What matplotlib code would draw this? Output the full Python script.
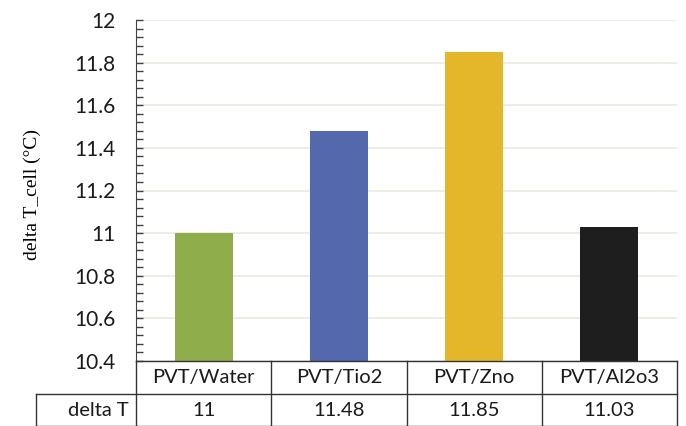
import matplotlib.pyplot as plt
from matplotlib.lines import Line2D
from matplotlib.ticker import MultipleLocator

# data
categories = ["PVT/Water", "PVT/Tio2", "PVT/Zno", "PVT/Al2o3"]
delta_t = [11, 11.48, 11.85, 11.03]
colors = ["#8FAE4B", "#5468AE", "#E4B72A", "#1E1E1E"]
row_label = "delta T"

W, H = 686, 426
fig = plt.figure(figsize=(W / 100, H / 100), dpi=100)

# axes box in pixel coords
ax_l, ax_r, ax_t, ax_b = 136, 677, 20, 361
ax = fig.add_axes([ax_l / W, 1 - ax_b / H, (ax_r - ax_l) / W, (ax_b - ax_t) / H])

x = list(range(len(categories)))
ax.bar(x, [v - 10.4 for v in delta_t], bottom=10.4, width=0.43, color=colors, zorder=2)
ax.set_xlim(-0.5, len(categories) - 0.5)
ax.set_ylim(10.4, 12)

ax.yaxis.set_major_locator(MultipleLocator(0.2))
ax.yaxis.set_minor_locator(MultipleLocator(0.04))
ax.yaxis.set_major_formatter(plt.FuncFormatter(lambda v, p: f"{v:g}"))
ax.tick_params(axis="y", which="both", direction="in", length=5, width=1,
               color="#404040", labelsize=15, pad=15)
ax.tick_params(axis="x", bottom=False, labelbottom=False)
for lab in ax.get_yticklabels():
    lab.set_fontfamily("Lato")
    lab.set_color("#1a1a1a")
ax.grid(axis="y", which="major", color="#EAEAE0", linewidth=1.2, zorder=0)
for s in ["top", "right", "bottom"]:
    ax.spines[s].set_visible(False)
ax.spines["left"].set_color("#404040")

fig.text(32 / W, 1 - 194 / H, "delta T_cell (\u00b0C)", rotation=90, ha="center", va="center",
         fontsize=14, family="Liberation Serif")

# table drawn in pixel coords
def px(xp, yp):
    return xp / W, 1 - yp / H

def hline(y, x0, x1):
    (a, b), (c, d) = px(x0, y), px(x1, y)
    fig.add_artist(Line2D([a, c], [b, d], color="#333333", lw=1))

def vline(xp, y0, y1):
    (a, b), (c, d) = px(xp, y0), px(xp, y1)
    fig.add_artist(Line2D([a, c], [b, d], color="#333333", lw=1))

row1, row2, row3 = 361, 394, 426
col_w = (ax_r - ax_l) / len(categories)
hline(row1, ax_l, ax_r)
hline(row2, 36, ax_r)
hline(row3 - 0.5, 36, ax_r)
vline(36, row2, row3)
for i in range(len(categories) + 1):
    vline(ax_l + i * col_w, row1, row3)

fs = 14.5
for i, (c, v) in enumerate(zip(categories, delta_t)):
    cx = ax_l + (i + 0.5) * col_w
    fig.text(*px(cx, (row1 + row2) / 2), c, ha="center", va="center",
             fontsize=fs, family="Lato", color="#1a1a1a")
    fig.text(*px(cx, (row2 + row3) / 2), f"{v:g}", ha="center", va="center",
             fontsize=fs, family="Lato", color="#1a1a1a")
fig.text(*px(129, (row2 + row3) / 2), row_label, ha="right", va="center",
         fontsize=fs, family="Lato", color="#1a1a1a")

fig.savefig("out.png", dpi=100)
